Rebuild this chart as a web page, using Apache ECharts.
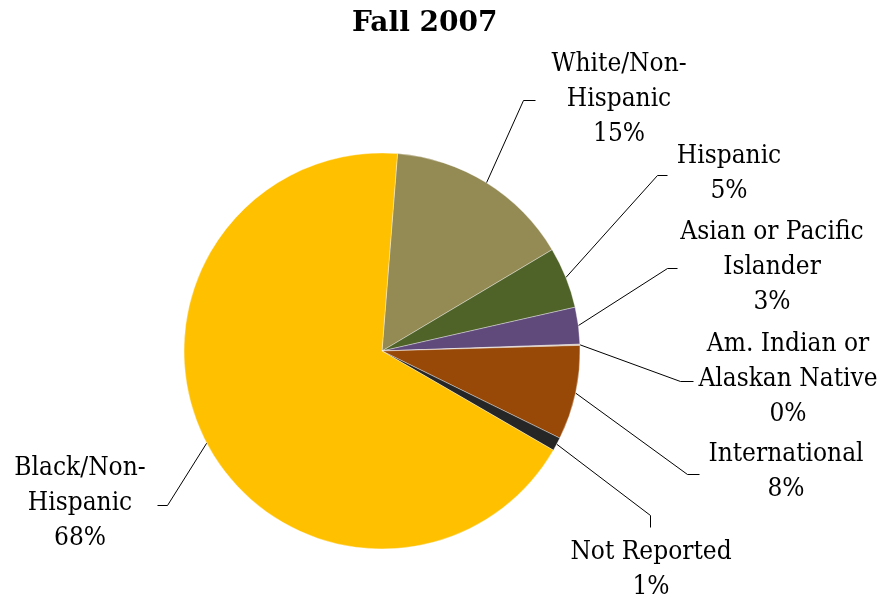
<!DOCTYPE html>
<html><head><meta charset="utf-8">
<script src="https://cdn.jsdelivr.net/npm/echarts@6/dist/echarts.min.js"></script>
<style>html,body{margin:0;padding:0;background:#fff}#c{width:882px;height:600px}</style>
</head><body><div id="c"></div>
<script>
// ---- data ----
const categories = ['White/Non-Hispanic', 'Hispanic', 'Asian or Pacific Islander', 'Am. Indian or Alaskan Native', 'International', 'Not Reported', 'Black/Non-Hispanic'];
const labelTexts = ['White/Non-\nHispanic', 'Hispanic', 'Asian or Pacific\nIslander', 'Am. Indian or\nAlaskan Native', 'International', 'Not Reported', 'Black/Non-\nHispanic'];
const values = [15.2, 5.0, 3.0, 0.1, 7.7, 1.1, 67.9];
const colors = ['#948A54', '#4F6228', '#604A7B', '#C9B7A0', '#984807', '#262626', '#FFC000'];

// ---- layout ----
const CX = 382, CY = 351, R = 198, START = 85.5;
const labelLayoutTable = [
  {x: 619, y: 99,  p1: [523.5, 100.5], p2: [535.5, 100.5]},
  {x: 729, y: 174, p1: [657.5, 175.5], p2: [667.5, 175.5]},
  {x: 772, y: 267, p1: [667.5, 268.5], p2: [677.5, 268.5]},
  {x: 788, y: 379, p1: [680.5, 381.5], p2: [693.5, 381.5]},
  {x: 786, y: 472, p1: [687.5, 474.5], p2: [699.5, 474.5]},
  {x: 651, y: 570, p1: [650.5, 515.5], p2: [650.5, 527.5]},
  {x: 80,  y: 503, p1: [167.5, 505.5], p2: [157.5, 505.5]}
];
const total = values.reduce((a, b) => a + b, 0);
function edgePoint(i) {
  let cum = 0;
  for (let k = 0; k < i; k++) cum += values[k];
  const mid = (START - (cum + values[i] / 2) / total * 360) * Math.PI / 180;
  return [CX + R * Math.cos(mid), CY - R * Math.sin(mid)];
}

const FONT = "'DejaVu Serif Condensed', 'Liberation Serif', serif";
const chart = echarts.init(document.getElementById('c'), null, {renderer: 'canvas'});
chart.setOption({
  animation: false,
  backgroundColor: '#ffffff',
  title: {
    text: 'Fall 2007',
    left: 347, top: 5,
    textStyle: {fontFamily: "'DejaVu Serif', serif", fontWeight: 'bold', fontSize: 28, color: '#000'}
  },
  series: [{
    type: 'pie',
    center: [CX, CY],
    radius: R,
    startAngle: START,
    clockwise: true,
    avoidLabelOverlap: false,
    minShowLabelAngle: 0,
    emphasis: {disabled: true},
    data: categories.map((c, i) => ({name: c, value: values[i], itemStyle: {color: colors[i]}})),
    itemStyle: {borderColor: 'rgba(255,255,255,0.6)', borderWidth: 0.6},
    label: {
      show: true,
      position: 'outside',
      fontFamily: FONT,
      fontSize: 26,
      lineHeight: 35,
      color: '#000',
      align: 'center',
      formatter: p => labelTexts[p.dataIndex] + '\n' + Math.round(p.percent) + '%'
    },
    labelLine: {show: true, length: 10, length2: 10, lineStyle: {color: '#000', width: 1}},
    labelLayout: function (params) {
      const L = labelLayoutTable[params.dataIndex];
      return {
        x: L.x, y: L.y, align: 'center', verticalAlign: 'middle',
        labelLinePoints: [edgePoint(params.dataIndex), L.p1, L.p2]
      };
    }
  }]
});
</script>
</body></html>
